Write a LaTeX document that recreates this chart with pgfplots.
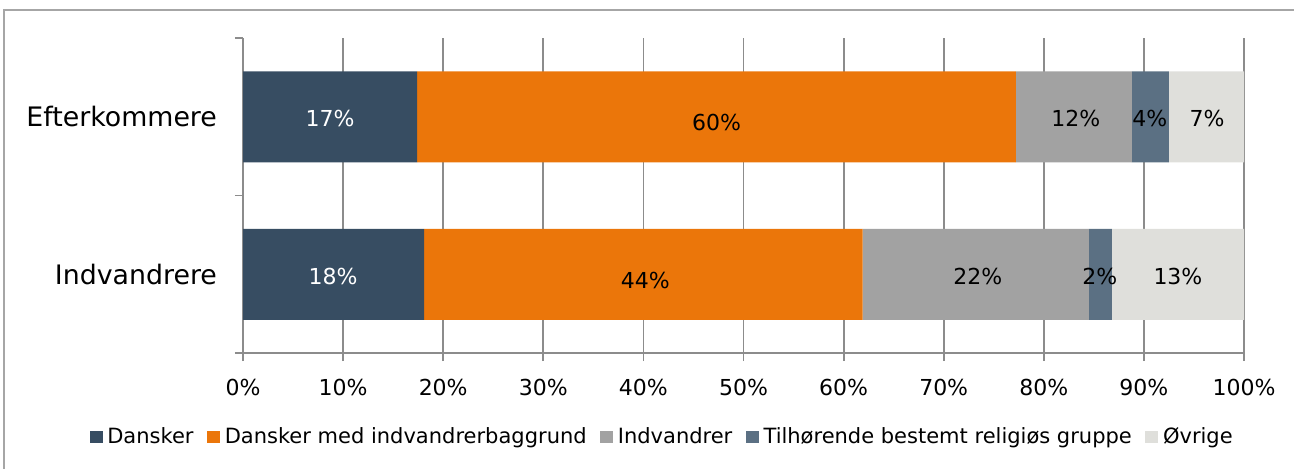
\documentclass[border=0pt]{standalone}
\usepackage{pgfplots}
\pgfplotsset{compat=1.18}
\usepackage{fontspec}
\setmainfont{DejaVu Sans}
\definecolor{cA}{HTML}{374D62}
\definecolor{cB}{HTML}{EB760A}
\definecolor{cC}{HTML}{A2A2A2}
\definecolor{cD}{HTML}{5B7083}
\definecolor{cE}{HTML}{DFDFDB}
\definecolor{gridc}{HTML}{8C8C8C}
\definecolor{framec}{HTML}{A6A6A6}
\pgfplotsset{geom/.style={at={(121.5pt,57.5pt)}, anchor=south west,
  scale only axis, width=500.5pt, height=157.5pt,
  xmin=0, xmax=100, ymin=0, ymax=2}}
\begin{document}
\begin{tikzpicture}
\useasboundingbox (0,0) rectangle (647pt,234pt);
\draw[color=framec, line width=1pt] (2pt,-20pt) -- (2pt,229pt) -- (700pt,229pt);
\begin{axis}[geom,
  xbar stacked, bar width=45.5pt,
  axis x line*=bottom, axis y line*=left,
  axis line style={gridc, line width=0.9pt},
  xtick={0,10,...,100},
  xticklabel={\pgfmathprintnumber{\tick}\%},
  xmajorgrids, grid style={gridc, line width=0.9pt},
  ytick={0,1,2}, yticklabels={},
  extra y ticks={0.5,1.5}, extra y tick labels={Indvandrere,Efterkommere},
  extra y tick style={major tick length=0pt, grid=none},
  tick align=outside,
  major tick length=4pt,
  tick style={gridc, line width=0.9pt},
  /pgf/number format/assume math mode=true,
  xticklabel style={font=\fontsize{11}{13}\selectfont, yshift=-5.5pt},
  yticklabel style={font=\fontsize{13.4}{15}\selectfont, xshift=-9.5pt},
  legend style={at={(0.4186,-0.267)}, anchor=center, draw=none, fill=none,
    legend columns=-1, font=\fontsize{10.5}{13}\selectfont,
    nodes={inner sep=0.8pt},
    /tikz/every odd column/.append style={column sep=1.5pt},
    /tikz/every even column/.append style={column sep=6pt}},
  legend image code/.code={\fill[#1] (0pt,-3pt) rectangle (6.5pt,3pt);},
]
\addplot[fill=cA, draw=none] coordinates {(18.1,0.5) (17.4,1.5)};
\addplot[fill=cB, draw=none] coordinates {(43.8,0.5) (59.8,1.5)};
\addplot[fill=cC, draw=none] coordinates {(22.6,0.5) (11.6,1.5)};
\addplot[fill=cD, draw=none] coordinates {(2.3,0.5) (3.7,1.5)};
\addplot[fill=cE, draw=none] coordinates {(13.2,0.5) (7.5,1.5)};
\legend{Dansker, Dansker med indvandrerbaggrund, Indvandrer, Tilhørende bestemt religiøs gruppe, Øvrige}
\end{axis}
\begin{axis}[geom, hide axis,
  nodes near coords, point meta=explicit symbolic,
  every node near coord/.append style={anchor=center, yshift=-1pt, font=\fontsize{11}{13}\selectfont}]
\addplot[only marks, mark=none, nodes near coords style={text=white}] table[meta=l] {
x y l
8.7 1.5 17\%
9.0 0.5 18\%
};
\addplot[only marks, mark=none, nodes near coords style={yshift=-2pt}] table[meta=l] {
x y l
47.3 1.5 60\%
40.2 0.5 44\%
};
\addplot[only marks, mark=none] table[meta=l] {
x y l
83.2 1.5 12\%
90.6 1.5 4\%
96.3 1.5 7\%
73.4 0.5 22\%
85.6 0.5 2\%
93.4 0.5 13\%
};
\end{axis}
\end{tikzpicture}
\end{document}
